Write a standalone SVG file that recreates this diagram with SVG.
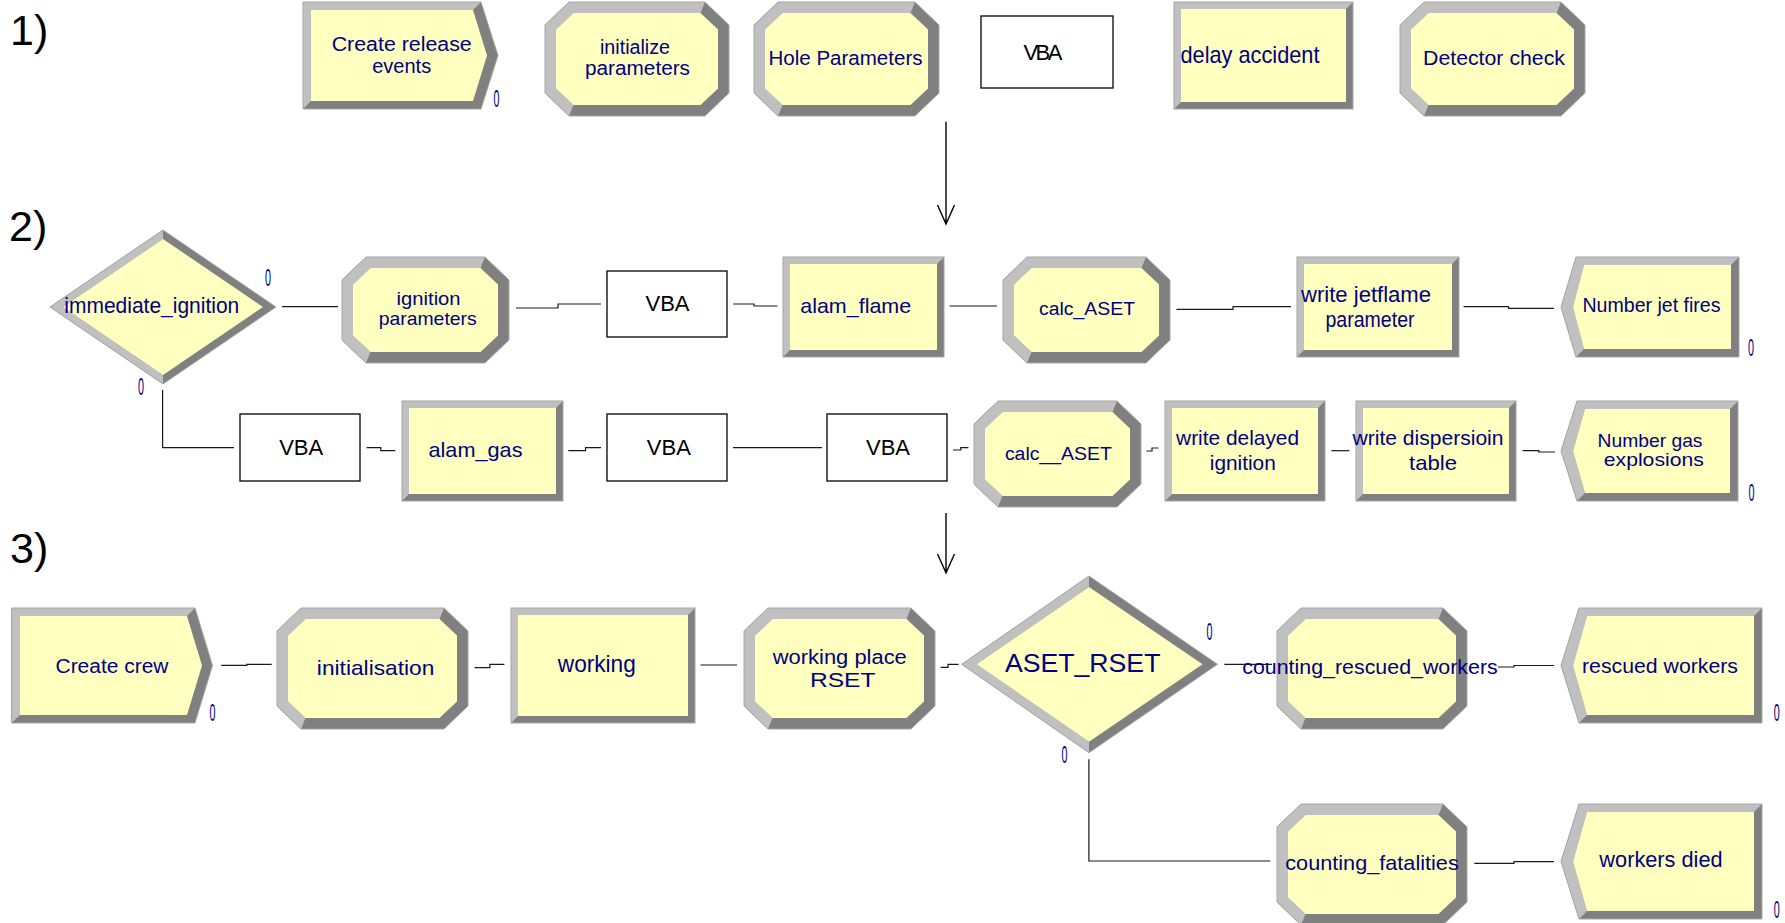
<svg xmlns="http://www.w3.org/2000/svg" width="1785" height="923" viewBox="0 0 1785 923">
<style>
  .dk{fill:#808080}
  .lt{fill:#c0c0c0}
  .yl{fill:#ffffc0}
  .edge{fill:none;stroke:#a6a6a6;stroke-width:1}
  .lbl{font-family:"Liberation Sans",Arial,sans-serif;fill:#000080;text-anchor:middle}
  .cnt{font-family:"Liberation Sans",Arial,sans-serif;fill:#000080;font-size:24px;text-anchor:middle}
  .vba{fill:#ffffff;stroke:#000000;stroke-width:1.3}
  .vbat{font-family:"Liberation Sans",Arial,sans-serif;fill:#000000;font-size:22px;text-anchor:middle}
  .step{font-family:"Liberation Sans",Arial,sans-serif;fill:#000000;font-size:43px}
  .conn{fill:none;stroke:#1a1a1a;stroke-width:1.2}
  .arr{fill:none;stroke:#000000;stroke-width:1.4}
</style>

<!-- stage numbers -->
<text class="step" x="10" y="45">1)</text>
<text class="step" x="9" y="241">2)</text>
<text class="step" x="10" y="563">3)</text>

<!-- ===== stage 1 ===== -->
<g id="create-release-events">
  <polygon class="dk" points="303,2 481,2 498,55.5 481,109 303,109"/>
  <polygon class="lt" points="303,2 481,2 473,10 311,10 311,101 303,109"/>
  <polygon class="yl" points="311,10 473,10 487,55.5 473,101 311,101"/>
  <polygon class="edge" points="303,2 481,2 498,55.5 481,109 303,109"/>
  <text class="lbl" font-size="20" x="401.7" y="51" textLength="140" lengthAdjust="spacingAndGlyphs">Create release</text>
  <text class="lbl" font-size="20" x="401.7" y="73">events</text>
  <text class="cnt" x="496.5" y="107" textLength="6" lengthAdjust="spacingAndGlyphs">0</text>
</g>

<g id="initialize-parameters">
  <polygon class="dk" points="569,2 705,2 729,25 729,93 705,116 569,116 545,93 545,25"/>
  <polygon class="lt" points="705,2 569,2 545,25 545,93 569,116 573.5,105 556,88.5 556,29.5 573.5,13 700.5,13"/>
  <polygon class="yl" points="573.5,13 700.5,13 718,29.5 718,88.5 700.5,105 573.5,105 556,88.5 556,29.5"/>
  <polygon class="edge" points="569,2 705,2 729,25 729,93 705,116 569,116 545,93 545,25"/>
  <text class="lbl" font-size="20" x="635" y="54" textLength="70" lengthAdjust="spacingAndGlyphs">initialize</text>
  <text class="lbl" font-size="20" x="637.5" y="75" textLength="105" lengthAdjust="spacingAndGlyphs">parameters</text>
</g>

<g id="hole-parameters">
  <polygon class="dk" points="778,2 915,2 939,25 939,93 915,116 778,116 754,93 754,25"/>
  <polygon class="lt" points="915,2 778,2 754,25 754,93 778,116 782.5,105 765,88.5 765,29.5 782.5,13 910.5,13"/>
  <polygon class="yl" points="782.5,13 910.5,13 928,29.5 928,88.5 910.5,105 782.5,105 765,88.5 765,29.5"/>
  <polygon class="edge" points="778,2 915,2 939,25 939,93 915,116 778,116 754,93 754,25"/>
  <text class="lbl" font-size="20.5" x="845.5" y="65" textLength="154" lengthAdjust="spacingAndGlyphs">Hole Parameters</text>
</g>

<g id="vba-1">
  <rect class="vba" x="981" y="16" width="132" height="72"/>
  <text class="vbat" x="1041.7" y="60" letter-spacing="-2.5">VBA</text>
</g>

<g id="delay-accident">
  <rect class="dk" x="1174" y="2" width="179" height="107"/>
  <polygon class="lt" points="1174,2 1353,2 1346,9 1181,9 1181,102 1174,109"/>
  <rect class="yl" x="1181" y="9" width="165" height="93"/>
  <rect class="edge" x="1174" y="2" width="179" height="107"/>
  <text class="lbl" font-size="24" x="1250" y="63" textLength="139" lengthAdjust="spacingAndGlyphs">delay accident</text>
</g>

<g id="detector-check">
  <polygon class="dk" points="1424,2 1561,2 1585,25 1585,93 1561,116 1424,116 1400,93 1400,25"/>
  <polygon class="lt" points="1561,2 1424,2 1400,25 1400,93 1424,116 1428.5,105 1411,88.5 1411,29.5 1428.5,13 1556.5,13"/>
  <polygon class="yl" points="1428.5,13 1556.5,13 1574,29.5 1574,88.5 1556.5,105 1428.5,105 1411,88.5 1411,29.5"/>
  <polygon class="edge" points="1424,2 1561,2 1585,25 1585,93 1561,116 1424,116 1400,93 1400,25"/>
  <text class="lbl" font-size="20" x="1494" y="65" textLength="142" lengthAdjust="spacingAndGlyphs">Detector check</text>
</g>

<!-- ===== stage 2 ===== -->
<g id="immediate-ignition">
  <polygon class="dk" points="163,230 276,307 163,384 50,307"/>
  <polygon class="lt" points="163,230 50,307 163,384 163,375 63,307 163,239"/>
  <polygon class="yl" points="163,239 263,307 163,375 63,307"/>
  <polygon class="edge" points="163,230 276,307 163,384 50,307"/>
  <text class="lbl" font-size="22" x="151.8" y="313" textLength="175" lengthAdjust="spacingAndGlyphs">immediate_ignition</text>
  <text class="cnt" x="268" y="286" textLength="6" lengthAdjust="spacingAndGlyphs">0</text>
  <text class="cnt" x="141" y="395" textLength="6" lengthAdjust="spacingAndGlyphs">0</text>
</g>

<g id="ignition-parameters">
  <polygon class="dk" points="366,257 485,257 509,280 509,340 485,363 366,363 342,340 342,280"/>
  <polygon class="lt" points="485,257 366,257 342,280 342,340 366,363 370.5,352 353,335.5 353,284.5 370.5,268 480.5,268"/>
  <polygon class="yl" points="370.5,268 480.5,268 498,284.5 498,335.5 480.5,352 370.5,352 353,335.5 353,284.5"/>
  <polygon class="edge" points="366,257 485,257 509,280 509,340 485,363 366,363 342,340 342,280"/>
  <text class="lbl" font-size="19" x="428.6" y="305" textLength="64" lengthAdjust="spacingAndGlyphs">ignition</text>
  <text class="lbl" font-size="19" x="427.7" y="325" textLength="98" lengthAdjust="spacingAndGlyphs">parameters</text>
</g>

<g id="vba-2">
  <rect class="vba" x="607" y="271" width="120" height="66"/>
  <text class="vbat" x="667.5" y="311">VBA</text>
</g>

<g id="alam-flame">
  <rect class="dk" x="783" y="257" width="161" height="100"/>
  <polygon class="lt" points="783,257 944,257 937,264 790,264 790,350 783,357"/>
  <rect class="yl" x="790" y="264" width="147" height="86"/>
  <rect class="edge" x="783" y="257" width="161" height="100"/>
  <text class="lbl" font-size="21" x="855.7" y="313.3" textLength="111" lengthAdjust="spacingAndGlyphs">alam_flame</text>
</g>

<g id="calc-aset">
  <polygon class="dk" points="1027,257 1146,257 1170,280 1170,340 1146,363 1027,363 1003,340 1003,280"/>
  <polygon class="lt" points="1146,257 1027,257 1003,280 1003,340 1027,363 1031.5,352 1014,335.5 1014,284.5 1031.5,268 1141.5,268"/>
  <polygon class="yl" points="1031.5,268 1141.5,268 1159,284.5 1159,335.5 1141.5,352 1031.5,352 1014,335.5 1014,284.5"/>
  <polygon class="edge" points="1027,257 1146,257 1170,280 1170,340 1146,363 1027,363 1003,340 1003,280"/>
  <text class="lbl" font-size="18" x="1087" y="315" textLength="96" lengthAdjust="spacingAndGlyphs">calc_ASET</text>
</g>

<g id="write-jetflame-parameter">
  <rect class="dk" x="1297" y="257" width="162" height="100"/>
  <polygon class="lt" points="1297,257 1459,257 1452,264 1304,264 1304,350 1297,357"/>
  <rect class="yl" x="1304" y="264" width="148" height="86"/>
  <rect class="edge" x="1297" y="257" width="162" height="100"/>
  <text class="lbl" font-size="22" x="1366" y="302" textLength="130" lengthAdjust="spacingAndGlyphs">write jetflame</text>
  <text class="lbl" font-size="22" x="1370" y="327" textLength="89" lengthAdjust="spacingAndGlyphs">parameter</text>
</g>

<g id="number-jet-fires">
  <polygon class="dk" points="1561,307 1576,257 1739,257 1739,357 1576,357"/>
  <polygon class="lt" points="1739,257 1576,257 1561,307 1576,357 1584,349 1573,307 1584,265 1731,265"/>
  <polygon class="yl" points="1573,307 1584,265 1731,265 1731,349 1584,349"/>
  <polygon class="edge" points="1561,307 1576,257 1739,257 1739,357 1576,357"/>
  <text class="lbl" font-size="20" x="1651.5" y="311.7" textLength="138" lengthAdjust="spacingAndGlyphs">Number jet fires</text>
  <text class="cnt" x="1751" y="356" textLength="6" lengthAdjust="spacingAndGlyphs">0</text>
</g>

<g id="vba-3">
  <rect class="vba" x="240" y="414" width="120" height="67"/>
  <text class="vbat" x="301.2" y="455">VBA</text>
</g>

<g id="alam-gas">
  <rect class="dk" x="402" y="401" width="161" height="100"/>
  <polygon class="lt" points="402,401 563,401 556,408 409,408 409,494 402,501"/>
  <rect class="yl" x="409" y="408" width="147" height="86"/>
  <rect class="edge" x="402" y="401" width="161" height="100"/>
  <text class="lbl" font-size="21" x="475.5" y="457.3" textLength="94" lengthAdjust="spacingAndGlyphs">alam_gas</text>
</g>

<g id="vba-4">
  <rect class="vba" x="607" y="414" width="120" height="67"/>
  <text class="vbat" x="668.8" y="455">VBA</text>
</g>

<g id="vba-5">
  <rect class="vba" x="827" y="414" width="120" height="67"/>
  <text class="vbat" x="888" y="455">VBA</text>
</g>

<g id="calc-aset-2">
  <polygon class="dk" points="998,401 1117,401 1141,424 1141,484 1117,507 998,507 974,484 974,424"/>
  <polygon class="lt" points="1117,401 998,401 974,424 974,484 998,507 1002.5,496 985,479.5 985,428.5 1002.5,412 1112.5,412"/>
  <polygon class="yl" points="1002.5,412 1112.5,412 1130,428.5 1130,479.5 1112.5,496 1002.5,496 985,479.5 985,428.5"/>
  <polygon class="edge" points="998,401 1117,401 1141,424 1141,484 1117,507 998,507 974,484 974,424"/>
  <text class="lbl" font-size="18" x="1058.4" y="460" textLength="107" lengthAdjust="spacingAndGlyphs">calc__ASET</text>
</g>

<g id="write-delayed-ignition">
  <rect class="dk" x="1165" y="401" width="160" height="100"/>
  <polygon class="lt" points="1165,401 1325,401 1318,408 1172,408 1172,494 1165,501"/>
  <rect class="yl" x="1172" y="408" width="146" height="86"/>
  <rect class="edge" x="1165" y="401" width="160" height="100"/>
  <text class="lbl" font-size="21" x="1237.6" y="445" textLength="123" lengthAdjust="spacingAndGlyphs">write delayed</text>
  <text class="lbl" font-size="21" x="1242.8" y="470" textLength="66" lengthAdjust="spacingAndGlyphs">ignition</text>
</g>

<g id="write-dispersion-table">
  <rect class="dk" x="1356" y="401" width="160" height="100"/>
  <polygon class="lt" points="1356,401 1516,401 1509,408 1363,408 1363,494 1356,501"/>
  <rect class="yl" x="1363" y="408" width="146" height="86"/>
  <rect class="edge" x="1356" y="401" width="160" height="100"/>
  <text class="lbl" font-size="21" x="1428" y="445" textLength="151" lengthAdjust="spacingAndGlyphs">write dispersioin</text>
  <text class="lbl" font-size="21" x="1433" y="470" textLength="48" lengthAdjust="spacingAndGlyphs">table</text>
</g>

<g id="number-gas-explosions">
  <polygon class="dk" points="1561,451 1577,401 1738,401 1738,501 1577,501"/>
  <polygon class="lt" points="1738,401 1577,401 1561,451 1577,501 1585,493 1573,451 1585,409 1730,409"/>
  <polygon class="yl" points="1573,451 1585,409 1730,409 1730,493 1585,493"/>
  <polygon class="edge" points="1561,451 1577,401 1738,401 1738,501 1577,501"/>
  <text class="lbl" font-size="19" x="1650" y="446.7" textLength="105" lengthAdjust="spacingAndGlyphs">Number gas</text>
  <text class="lbl" font-size="19" x="1653.8" y="466" textLength="100" lengthAdjust="spacingAndGlyphs">explosions</text>
  <text class="cnt" x="1751.5" y="501" textLength="6" lengthAdjust="spacingAndGlyphs">0</text>
</g>

<!-- ===== stage 3 ===== -->
<g id="create-crew">
  <polygon class="dk" points="11.5,608 195,608 212.5,665.5 195,723 11.5,723"/>
  <polygon class="lt" points="11.5,608 195,608 187,616 20,616 20,715 11.5,723"/>
  <polygon class="yl" points="20,616 187,616 202,665.5 187,715 20,715"/>
  <polygon class="edge" points="11.5,608 195,608 212.5,665.5 195,723 11.5,723"/>
  <text class="lbl" font-size="20" x="112" y="672.7" textLength="113" lengthAdjust="spacingAndGlyphs">Create crew</text>
  <text class="cnt" x="212.4" y="721" textLength="6" lengthAdjust="spacingAndGlyphs">0</text>
</g>

<g id="initialisation">
  <polygon class="dk" points="301,608 444,608 468,631 468,706 444,729 301,729 277,706 277,631"/>
  <polygon class="lt" points="444,608 301,608 277,631 277,706 301,729 305.5,718 288,701.5 288,635.5 305.5,619 439.5,619"/>
  <polygon class="yl" points="305.5,619 439.5,619 457,635.5 457,701.5 439.5,718 305.5,718 288,701.5 288,635.5"/>
  <polygon class="edge" points="301,608 444,608 468,631 468,706 444,729 301,729 277,706 277,631"/>
  <text class="lbl" font-size="21" x="375.6" y="675" textLength="117.5" lengthAdjust="spacingAndGlyphs">initialisation</text>
</g>

<g id="working">
  <rect class="dk" x="511" y="608" width="184" height="115"/>
  <polygon class="lt" points="511,608 695,608 688,615 518,615 518,716 511,723"/>
  <rect class="yl" x="518" y="615" width="170" height="101"/>
  <rect class="edge" x="511" y="608" width="184" height="115"/>
  <text class="lbl" font-size="24" x="596.8" y="672" textLength="78" lengthAdjust="spacingAndGlyphs">working</text>
</g>

<g id="working-place-rset">
  <polygon class="dk" points="768,608 911,608 935,631 935,706 911,729 768,729 744,706 744,631"/>
  <polygon class="lt" points="911,608 768,608 744,631 744,706 768,729 772.5,718 755,701.5 755,635.5 772.5,619 906.5,619"/>
  <polygon class="yl" points="772.5,619 906.5,619 924,635.5 924,701.5 906.5,718 772.5,718 755,701.5 755,635.5"/>
  <polygon class="edge" points="768,608 911,608 935,631 935,706 911,729 768,729 744,706 744,631"/>
  <text class="lbl" font-size="20" x="839.8" y="664" textLength="134" lengthAdjust="spacingAndGlyphs">working place</text>
  <text class="lbl" font-size="20" x="842.7" y="686.7" textLength="65.6" lengthAdjust="spacingAndGlyphs">RSET</text>
</g>

<g id="aset-rset">
  <polygon class="dk" points="1089,576 1217.5,664.3 1089,752.7 961.7,664.3"/>
  <polygon class="lt" points="1089,576 961.7,664.3 1089,752.7 1089,741.7 976.7,664.3 1089,587"/>
  <polygon class="yl" points="1089,587 1202.5,664.3 1089,741.7 976.7,664.3"/>
  <polygon class="edge" points="1089,576 1217.5,664.3 1089,752.7 961.7,664.3"/>
  <text class="lbl" font-size="25" x="1082.7" y="671.7" textLength="155.4" lengthAdjust="spacingAndGlyphs">ASET_RSET</text>
  <text class="cnt" x="1209.5" y="640" textLength="6" lengthAdjust="spacingAndGlyphs">0</text>
  <text class="cnt" x="1064.4" y="763" textLength="6" lengthAdjust="spacingAndGlyphs">0</text>
</g>

<g id="counting-rescued-workers">
  <polygon class="dk" points="1301,608 1443,608 1467,631 1467,706 1443,729 1301,729 1277,706 1277,631"/>
  <polygon class="lt" points="1443,608 1301,608 1277,631 1277,706 1301,729 1305.5,718 1288,701.5 1288,635.5 1305.5,619 1438.5,619"/>
  <polygon class="yl" points="1305.5,619 1438.5,619 1456,635.5 1456,701.5 1438.5,718 1305.5,718 1288,701.5 1288,635.5"/>
  <polygon class="edge" points="1301,608 1443,608 1467,631 1467,706 1443,729 1301,729 1277,706 1277,631"/>
</g>

<g id="rescued-workers">
  <polygon class="dk" points="1561,665.5 1579,608 1762,608 1762,723 1579,723"/>
  <polygon class="lt" points="1762,608 1579,608 1561,665.5 1579,723 1587,715 1573,665.5 1587,616 1754,616"/>
  <polygon class="yl" points="1573,665.5 1587,616 1754,616 1754,715 1587,715"/>
  <polygon class="edge" points="1561,665.5 1579,608 1762,608 1762,723 1579,723"/>
  <text class="lbl" font-size="21" x="1660" y="672.7" textLength="156" lengthAdjust="spacingAndGlyphs">rescued workers</text>
  <text class="cnt" x="1776.7" y="721" textLength="6" lengthAdjust="spacingAndGlyphs">0</text>
</g>

<g id="counting-fatalities">
  <polygon class="dk" points="1301,804 1443,804 1467,827 1467,902 1443,925 1301,925 1277,902 1277,827"/>
  <polygon class="lt" points="1443,804 1301,804 1277,827 1277,902 1301,925 1305.5,914 1288,897.5 1288,831.5 1305.5,815 1438.5,815"/>
  <polygon class="yl" points="1305.5,815 1438.5,815 1456,831.5 1456,897.5 1438.5,914 1305.5,914 1288,897.5 1288,831.5"/>
  <polygon class="edge" points="1301,804 1443,804 1467,827 1467,902 1443,925 1301,925 1277,902 1277,827"/>
  <text class="lbl" font-size="21" x="1372" y="870" textLength="173.5" lengthAdjust="spacingAndGlyphs">counting_fatalities</text>
</g>

<g id="workers-died">
  <polygon class="dk" points="1561,861.5 1579,804 1762,804 1762,919 1579,919"/>
  <polygon class="lt" points="1762,804 1579,804 1561,861.5 1579,919 1587,911 1573,861.5 1587,812 1754,812"/>
  <polygon class="yl" points="1573,861.5 1587,812 1754,812 1754,911 1587,911"/>
  <polygon class="edge" points="1561,861.5 1579,804 1762,804 1762,919 1579,919"/>
  <text class="lbl" font-size="22" x="1661" y="867.3" textLength="123.3" lengthAdjust="spacingAndGlyphs">workers died</text>
  <text class="cnt" x="1776.7" y="918" textLength="6" lengthAdjust="spacingAndGlyphs">0</text>
</g>

<!-- connectors between modules -->
<g id="connectors">
  <path class="conn" d="M282,306.7 H338"/>
  <path class="conn" d="M516,308 H558 V304 H601"/>
  <path class="conn" d="M733,304 H754 V306 H777.5"/>
  <path class="conn" d="M949.6,306 H997"/>
  <path class="conn" d="M1176.5,309.3 H1233 V306.7 H1291"/>
  <path class="conn" d="M1463.5,306.7 H1508.5 V308.3 H1554"/>
  <path class="conn" d="M162.6,390 V447.7 H234"/>
  <path class="conn" d="M366.6,447.7 H380.8 V450.7 H395.3"/>
  <path class="conn" d="M568.3,450.7 H585.6 V447.7 H601"/>
  <path class="conn" d="M733,447.7 H822"/>
  <path class="conn" d="M953,450 H960.8 V447.7 H968.4"/>
  <path class="conn" d="M1146.4,451 H1152 V448 H1158.5"/>
  <path class="conn" d="M1331.4,450.7 H1349.3"/>
  <path class="conn" d="M1522.6,450.7 H1538.8 V452 H1555"/>
  <path class="conn" d="M221.2,665.3 H246.8 V664.3 H271.7"/>
  <path class="conn" d="M474.6,667.7 H489.9 V664.3 H504.4"/>
  <path class="conn" d="M700.5,665 H737.1"/>
  <path class="conn" d="M940.7,667.3 H948 V664.3 H958.6"/>
  <path class="conn" d="M1224.4,664.3 H1272"/>
  <path class="conn" d="M1497.7,667 H1514 V665.5 H1554"/>
  <path class="conn" d="M1088.9,759.3 V861 H1270.3"/>
  <path class="conn" d="M1474.3,863.3 H1514 V861.7 H1554"/>
  <!-- stage transitions -->
  <path class="arr" d="M946,121.7 V224 M937.5,205 L946,224 L954.5,205"/>
  <path class="arr" d="M946,513 V572.7 M937.5,554 L946,572.7 L954.5,554"/>
</g>

<!-- label that overlaps its own connector, drawn on top -->
<text class="lbl" font-size="21" x="1370" y="674" textLength="255.5" lengthAdjust="spacingAndGlyphs">counting_rescued_workers</text>
</svg>
